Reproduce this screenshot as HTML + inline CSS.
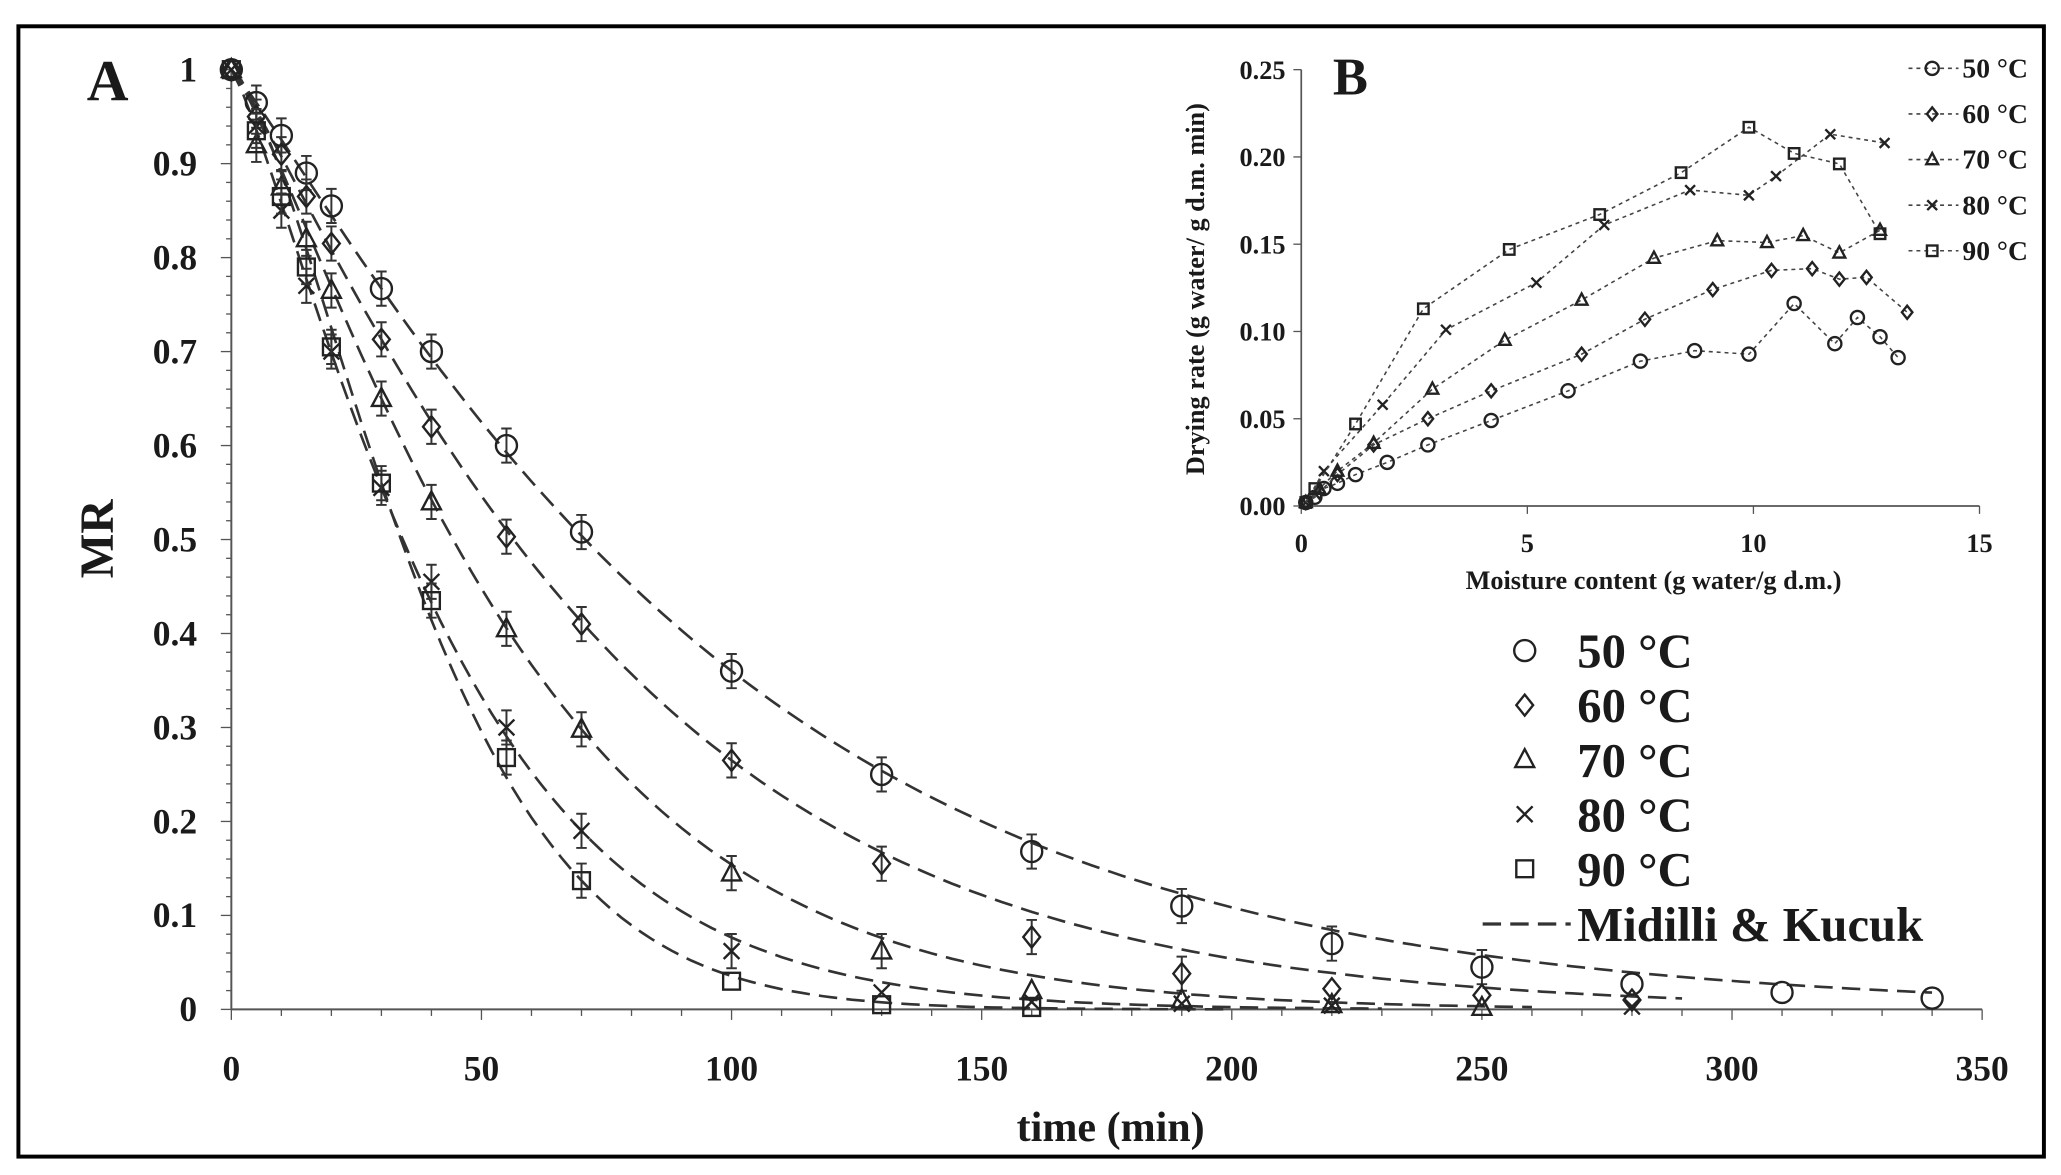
<!DOCTYPE html>
<html><head><meta charset="utf-8"><style>
html,body{margin:0;padding:0;background:#fff;}
svg{display:block;}
text{font-family:"Liberation Serif",serif;font-weight:bold;fill:#1a1a1a;}
</style></head><body>
<svg id="s" width="2061" height="1175" viewBox="0 0 1568 894" preserveAspectRatio="none" xmlns="http://www.w3.org/2000/svg"></svg>
<script>
const S=document.getElementById('s');let h='';
h+='<rect x="14" y="20" width="1541" height="860" fill="none" stroke="#000" stroke-width="3"/>';
// main axes
const X=t=>176+t*1332/350, Y=v=>768-v*715;
h+=`<line x1="176" y1="768" x2="1508" y2="768" stroke="#555" stroke-width="1.5"/><line x1="176" y1="53" x2="176" y2="768" stroke="#555" stroke-width="1.5"/>`;
for(let t=0;t<=350;t+=10){let l=t%50==0?8:5;h+=`<line x1="${X(t)}" y1="768" x2="${X(t)}" y2="${768+l}" stroke="#555"/>`;}
for(let t=0;t<=350;t+=50)h+=`<text x="${X(t)}" y="822" font-size="27" text-anchor="middle">${t}</text>`;
for(let i=0;i<=50;i++){let v=i/50,l=i%5==0?8:4;h+=`<line x1="${176-l}" y1="${Y(v)}" x2="176" y2="${Y(v)}" stroke="#555"/>`;}
for(let i=0;i<=10;i++){let v=i/10;h+=`<text x="150" y="${Y(v)+9}" font-size="27" text-anchor="end">${i==0?'0':i==10?'1':v.toFixed(1)}</text>`;}
h+=`<text x="845" y="868" font-size="32" text-anchor="middle">time (min)</text>`;
h+=`<text transform="translate(86,410) rotate(-90)" font-size="36" text-anchor="middle">MR</text>`;
h+=`<text x="66" y="76" font-size="44">A</text>`;
function mk(type,x,y,s){s=s||8;const st='fill="none" stroke="#222" stroke-width="1.8"';
 if(type==0)return `<circle cx="${x}" cy="${y}" r="${s}" ${st}/>`;
 if(type==1)return `<polygon points="${x},${y-s} ${x+s*.8},${y} ${x},${y+s} ${x-s*.8},${y}" ${st}/>`;
 if(type==2)return `<polygon points="${x},${y-s} ${x+s*.9},${y+s*.7} ${x-s*.9},${y+s*.7}" ${st}/>`;
 if(type==3)return `<path d="M${x-s*.75},${y-s*.75}L${x+s*.75},${y+s*.75}M${x+s*.75},${y-s*.75}L${x-s*.75},${y+s*.75}" ${st}/>`;
 return `<rect x="${x-s*.8}" y="${y-s*.8}" width="${s*1.6}" height="${s*1.6}" ${st}/>`;}
const D=[
[[0,1],[5,.965],[10,.93],[15,.89],[20,.855],[30,.767],[40,.70],[55,.60],[70,.508],[100,.36],[130,.25],[160,.168],[190,.11],[220,.07],[250,.045],[280,.027],[310,.018],[340,.012]],
[[0,1],[5,.95],[10,.91],[15,.865],[20,.815],[30,.713],[40,.62],[55,.503],[70,.41],[100,.265],[130,.155],[160,.077],[190,.038],[220,.022],[250,.015],[280,.01]],
[[0,1],[5,.92],[10,.875],[15,.82],[20,.765],[30,.65],[40,.54],[55,.405],[70,.298],[100,.145],[130,.062],[160,.02],[190,.01],[220,.005],[250,.002]],
[[0,1],[5,.94],[10,.85],[15,.77],[20,.70],[30,.555],[40,.455],[55,.30],[70,.19],[100,.062],[130,.018],[160,.008],[190,.006],[220,.004],[280,.003]],
[[0,1],[5,.935],[10,.865],[15,.79],[20,.705],[30,.56],[40,.435],[55,.268],[70,.137],[100,.03],[130,.005],[160,.002]]];
const A=[[30,.767,100,.36],[30,.713,100,.265],[30,.65,70,.298],[30,.555,70,.19],[30,.56,70,.137]];
A.forEach((a,i)=>{const u1=-Math.log(a[1]),u2=-Math.log(a[3]);const n=Math.log(u2/u1)/Math.log(a[2]/a[0]);const k=u1/Math.pow(a[0],n);
 let p='';const tm=i==0?340:i==1?290:i==2?260:i==3?230:200;for(let t=0;t<=tm;t+=2){p+=(t?'L':'M')+X(t).toFixed(1)+','+Y(Math.exp(-k*Math.pow(t,n))).toFixed(1);}
 h+=`<path d="${p}" fill="none" stroke="#333" stroke-width="2" stroke-dasharray="14,7"/>`;});
D.forEach((d,i)=>d.forEach(p=>{const x=X(p[0]),y=Y(p[1]);if(p[1]>0.03&&p[1]<0.99)h+=`<path d="M${x},${y-13}V${y+13}M${x-4},${y-13}H${x+4}M${x-4},${y+13}H${x+4}" stroke="#333" stroke-width="1.5"/>`;h+=mk(i,x,y,8);}));
// main legend
const L=['50 °C','60 °C','70 °C','80 °C','90 °C'];
L.forEach((l,i)=>{const y=495+i*41.5;h+=mk(i,1160,y,8);h+=`<text x="1200" y="${y+13}" font-size="37">${l}</text>`;});
h+=`<line x1="1128" y1="703" x2="1195" y2="703" stroke="#333" stroke-width="2.5" stroke-dasharray="14,7"/><text x="1200" y="716" font-size="37">Midilli &amp; Kucuk</text>`;
// inset
const x2=v=>990+v*516/15,y2=v=>385-v*1328;
h+=`<line x1="990" y1="385" x2="1506" y2="385" stroke="#555" stroke-width="1.3"/><line x1="990" y1="53" x2="990" y2="385" stroke="#555" stroke-width="1.3"/>`;
for(let v=0;v<=15;v+=5){h+=`<line x1="${x2(v)}" y1="385" x2="${x2(v)}" y2="391" stroke="#555"/><text x="${x2(v)}" y="420" font-size="20" text-anchor="middle">${v}</text>`;}
for(let i=0;i<=5;i++){const v=i*.05;h+=`<line x1="984" y1="${y2(v)}" x2="990" y2="${y2(v)}" stroke="#555"/><text x="978" y="${y2(v)+7}" font-size="20" text-anchor="end">${v.toFixed(2)}</text>`;}
h+=`<text x="1258" y="448" font-size="20" text-anchor="middle">Moisture content (g water/g d.m.)</text>`;
h+=`<text transform="translate(916,220) rotate(-90)" font-size="20" text-anchor="middle">Drying rate (g water/ g d.m. min)</text>`;
h+=`<text x="1014" y="72" font-size="40">B</text>`;
const E=[
[[0.1,.002],[0.3,.005],[0.5,.01],[0.8,.013],[1.2,.018],[1.9,.025],[2.8,.035],[4.2,.049],[5.9,.066],[7.5,.083],[8.7,.089],[9.9,.087],[10.9,.116],[11.8,.093],[12.3,.108],[12.8,.097],[13.2,.085]],
[[0.1,.002],[0.4,.008],[0.8,.018],[1.6,.035],[2.8,.05],[4.2,.066],[6.2,.087],[7.6,.107],[9.1,.124],[10.4,.135],[11.3,.136],[11.9,.13],[12.5,.131],[13.4,.111]],
[[0.1,.002],[0.4,.01],[0.8,.02],[1.6,.036],[2.9,.067],[4.5,.095],[6.2,.118],[7.8,.142],[9.2,.152],[10.3,.151],[11.1,.155],[11.9,.145],[12.8,.158]],
[[0.1,.002],[0.5,.02],[1.8,.058],[3.2,.101],[5.2,.128],[6.7,.161],[8.6,.181],[9.9,.178],[10.5,.189],[11.7,.213],[12.9,.208]],
[[0.1,.002],[0.3,.01],[1.2,.047],[2.7,.113],[4.6,.147],[6.6,.167],[8.4,.191],[9.9,.217],[10.9,.202],[11.9,.196],[12.8,.156]]];
E.forEach((d,i)=>{h+=`<path d="${d.map((p,j)=>(j?'L':'M')+x2(p[0]).toFixed(1)+','+y2(p[1]).toFixed(1)).join('')}" fill="none" stroke="#444" stroke-width="1.2" stroke-dasharray="3,3"/>`;d.forEach(p=>h+=mk(i,x2(p[0]),y2(p[1]),5));});
L.forEach((l,i)=>{const y=52+i*34.7;h+=`<line x1="1452" y1="${y}" x2="1490" y2="${y}" stroke="#444" stroke-width="1.2" stroke-dasharray="3,3"/>`+mk(i,1470,y,5)+`<text x="1493" y="${y+7}" font-size="21">${l}</text>`;});
S.innerHTML=h;
</script>
</body></html>
